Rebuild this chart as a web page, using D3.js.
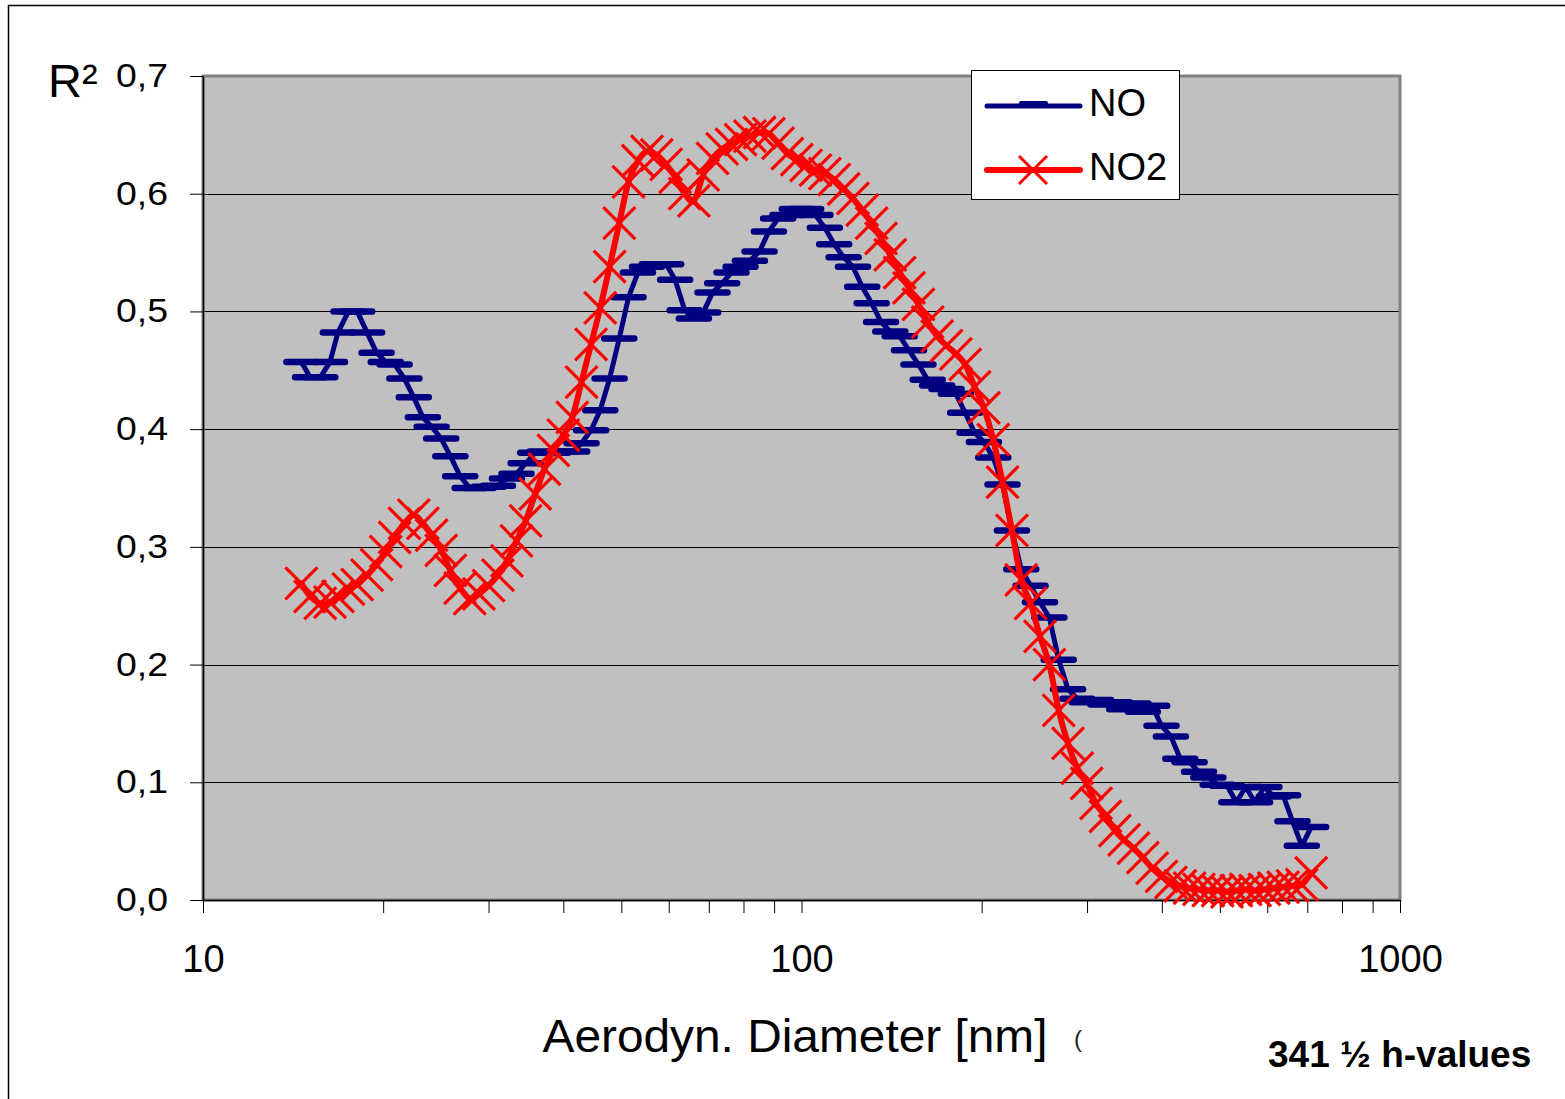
<!DOCTYPE html>
<html>
<head>
<meta charset="utf-8">
<script src="https://cdn.jsdelivr.net/npm/d3@7"></script>
<style>
  html, body { margin: 0; padding: 0; background: #fff; }
  svg { display: block; }
  text { font-family: "Liberation Sans", Arial, sans-serif; }
</style>
</head>
<body>
<svg id="chart" width="1565" height="1099"></svg>
<script>
// ---------------- DATA ----------------
const seriesNames = ["NO", "NO2"];

const diameters = [
  14.6, 15.1, 15.7, 16.3, 16.8, 17.5, 18.1, 18.8, 19.5, 20.2,
  20.9, 21.7, 22.5, 23.3, 24.1, 25.0, 25.9, 26.9, 27.9, 28.9,
  30.0, 31.1, 32.2, 33.4, 34.6, 35.9, 37.2, 38.5, 40.0, 41.4,
  42.9, 44.5, 46.1, 47.8, 49.6, 51.4, 53.3, 55.2, 57.3, 59.4,
  61.5, 63.8, 66.1, 68.5, 71.0, 73.7, 76.4, 79.1, 82.0, 85.1,
  88.2, 91.4, 94.7, 98.2, 101.8, 105.5, 109.4, 113.4, 117.6, 121.9,
  126.3, 131.0, 135.8, 140.7, 145.9, 151.2, 156.8, 162.5, 168.5, 174.7,
  181.1, 187.7, 194.6, 201.7, 209.1, 216.7, 224.7, 232.9, 241.4, 250.3,
  259.5, 269.0, 278.8, 289.0, 299.6, 310.6, 322.0, 333.8, 346.0, 358.7,
  371.8, 385.4, 399.5, 414.2, 429.4, 445.1, 461.4, 478.3, 495.8, 514.0,
  532.8, 552.3, 572.5, 593.5, 615.3, 637.8, 661.2, 685.4, 710.5
];

const valuesNO = [
  0.457, 0.444, 0.444, 0.457, 0.482, 0.500, 0.500, 0.482, 0.465, 0.457,
  0.455, 0.443, 0.427, 0.410, 0.402, 0.392, 0.377, 0.360, 0.350, 0.350,
  0.351, 0.352, 0.358, 0.362, 0.371, 0.380, 0.381, 0.380, 0.381, 0.381,
  0.388, 0.399, 0.416, 0.443, 0.477, 0.512, 0.533, 0.538, 0.540, 0.540,
  0.527, 0.501, 0.494, 0.499, 0.516, 0.524, 0.533, 0.538, 0.543, 0.551,
  0.568, 0.579, 0.582, 0.587, 0.587, 0.582, 0.571, 0.557, 0.546, 0.538,
  0.521, 0.507, 0.491, 0.483, 0.479, 0.467, 0.455, 0.442, 0.437, 0.434,
  0.430, 0.414, 0.397, 0.389, 0.376, 0.353, 0.314, 0.281, 0.267, 0.253,
  0.240, 0.204, 0.179, 0.171, 0.168, 0.170, 0.166, 0.168, 0.162, 0.167,
  0.160, 0.165, 0.148, 0.139, 0.120, 0.117, 0.109, 0.104, 0.098, 0.097,
  0.083, 0.096, 0.083, 0.096, 0.088, 0.089, 0.067, 0.046, 0.062
];

const valuesNO2 = [
  0.269, 0.258, 0.252, 0.253, 0.258, 0.264, 0.268, 0.276, 0.285, 0.296,
  0.308, 0.320, 0.327, 0.320, 0.310, 0.297, 0.280, 0.265, 0.256, 0.260,
  0.267, 0.276, 0.288, 0.305, 0.322, 0.345, 0.366, 0.382, 0.395, 0.410,
  0.440, 0.472, 0.503, 0.538, 0.575, 0.610, 0.628, 0.636, 0.633, 0.625,
  0.614, 0.600, 0.594, 0.616, 0.630, 0.638, 0.642, 0.646, 0.649, 0.652,
  0.651, 0.643, 0.634, 0.629, 0.624, 0.620, 0.617, 0.612, 0.604, 0.596,
  0.586, 0.575, 0.562, 0.548, 0.533, 0.520, 0.506, 0.491, 0.479, 0.471,
  0.464, 0.455, 0.436, 0.418, 0.391, 0.355, 0.314, 0.272, 0.252, 0.224,
  0.200, 0.161, 0.133, 0.112, 0.099, 0.082, 0.071, 0.059, 0.051, 0.044,
  0.036, 0.027, 0.020, 0.015, 0.012, 0.010, 0.009, 0.008, 0.008, 0.007,
  0.008, 0.009, 0.008, 0.009, 0.010, 0.011, 0.012, 0.013, 0.023
];

const yTickValues = [0, 0.1, 0.2, 0.3, 0.4, 0.5, 0.6, 0.7];
const xTickValues = [10, 20, 30, 40, 50, 60, 70, 80, 90, 100, 200, 300, 400, 500, 600, 700, 800, 900, 1000];
const xLabelValues = [10, 100, 1000];

const yAxisLabel = "R²";
const xAxisTitle = "Aerodyn. Diameter [nm]";
const noteText = "341 ½ h-values";

// ---------------- CHART ----------------
const svg = d3.select("#chart");
const plot = { left: 203, right: 1400, top: 76, bottom: 900 };

const x = d3.scaleLog().domain([10, 1000]).range([plot.left, plot.right]);
const y = d3.scaleLinear().domain([0, 0.7]).range([plot.bottom, plot.top]);

svg.append("rect").attr("x", 0).attr("y", 0).attr("width", 1565).attr("height", 1099).attr("fill", "#fff");
// outer chart border
svg.append("rect").attr("x", 8.5).attr("y", 5.5).attr("width", 1620).attr("height", 1200)
  .attr("fill", "none").attr("stroke", "#000").attr("stroke-width", 1.5);

// plot background
svg.append("rect")
  .attr("x", plot.left).attr("y", plot.top)
  .attr("width", plot.right - plot.left).attr("height", plot.bottom - plot.top)
  .attr("fill", "#c0c0c0");

// gridlines
svg.append("g").selectAll("line")
  .data(yTickValues.filter(v => v > 0 && v < 0.7))
  .join("line")
  .attr("x1", plot.left).attr("x2", plot.right)
  .attr("y1", d => Math.round(y(d)) + 0.5).attr("y2", d => Math.round(y(d)) + 0.5)
  .attr("stroke", "#000").attr("stroke-width", 1);

// plot area border (grey)
svg.append("rect")
  .attr("x", plot.left).attr("y", plot.top)
  .attr("width", plot.right - plot.left).attr("height", plot.bottom - plot.top)
  .attr("fill", "none").attr("stroke", "#808080").attr("stroke-width", 3);

// Y axis
const yAxis = svg.append("g")
  .attr("transform", `translate(${plot.left},0)`)
  .call(d3.axisLeft(y).tickValues(yTickValues).tickSize(13).tickSizeOuter(0)
    .tickFormat(d => d.toFixed(1).replace(".", ",")));
yAxis.select(".domain").attr("stroke", "#000").attr("stroke-width", 1.5);
yAxis.selectAll(".tick line").attr("stroke", "#000").attr("stroke-width", 1);
yAxis.selectAll(".tick text")
  .attr("x", -35)
  .attr("fill", "#000")
  .style("font-size", "33px")
  .style("font-family", "'Liberation Sans', Arial, sans-serif")
  .attr("textLength", 52)
  .attr("lengthAdjust", "spacingAndGlyphs");

// X axis
const xAxis = svg.append("g")
  .attr("transform", `translate(0,${plot.bottom})`)
  .call(d3.axisBottom(x).tickValues(xTickValues).tickSize(13).tickSizeOuter(0).tickPadding(32)
    .tickFormat(d => xLabelValues.includes(d) ? String(d) : ""));
xAxis.select(".domain").attr("stroke", "#000").attr("stroke-width", 1.5);
xAxis.selectAll(".tick line").attr("stroke", "#000").attr("stroke-width", 1);
xAxis.selectAll(".tick text")
  .attr("fill", "#000")
  .style("font-size", "38px")
  .style("font-family", "'Liberation Sans', Arial, sans-serif");
svg.append("line").attr("x1", 190).attr("x2", plot.left).attr("y1", plot.bottom + 0.5).attr("y2", plot.bottom + 0.5)
  .attr("stroke", "#000").attr("stroke-width", 1);

// ---------------- SERIES ----------------
const n = Math.min(diameters.length, valuesNO.length, valuesNO2.length);
const dataNO = d3.range(n).map(i => ({ d: diameters[i], v: valuesNO[i] }));
const dataNO2 = d3.range(n).map(i => ({ d: diameters[i], v: valuesNO2[i] }));

const colNO = "#000080";
const colNO2 = "#ff0000";

// NO: straight line + horizontal dash markers
const lineStraight = d3.line().x(p => x(p.d)).y(p => y(p.v));
svg.append("path").datum(dataNO)
  .attr("d", lineStraight)
  .attr("fill", "none").attr("stroke", colNO).attr("stroke-width", 5)
  .attr("stroke-linejoin", "round").attr("stroke-linecap", "round");
svg.append("g").selectAll("line")
  .data(dataNO).join("line")
  .attr("x1", p => x(p.d) - 15).attr("x2", p => x(p.d) + 15)
  .attr("y1", p => y(p.v)).attr("y2", p => y(p.v))
  .attr("stroke", colNO).attr("stroke-width", 6.5).attr("stroke-linecap", "round");

// NO2: smoothed line + X markers
const lineSmooth = d3.line().x(p => x(p.d)).y(p => y(p.v)).curve(d3.curveCatmullRom.alpha(0));
svg.append("path").datum(dataNO2)
  .attr("d", lineSmooth)
  .attr("fill", "none").attr("stroke", colNO2).attr("stroke-width", 6)
  .attr("stroke-linejoin", "round").attr("stroke-linecap", "round");
const xm = svg.append("g").selectAll("g").data(dataNO2).join("g")
  .attr("transform", p => `translate(${x(p.d)},${y(p.v)})`);
const s = 16;
xm.append("line").attr("x1", -s).attr("y1", -s).attr("x2", s).attr("y2", s)
  .attr("stroke", colNO2).attr("stroke-width", 3.2);
xm.append("line").attr("x1", -s).attr("y1", s).attr("x2", s).attr("y2", -s)
  .attr("stroke", colNO2).attr("stroke-width", 3.2);

// ---------------- LEGEND ----------------
const lg = svg.append("g");
lg.append("rect").attr("x", 971.5).attr("y", 70.5).attr("width", 208).attr("height", 129)
  .attr("fill", "#fff").attr("stroke", "#000").attr("stroke-width", 1);
lg.append("line").attr("x1", 987).attr("x2", 1080).attr("y1", 106).attr("y2", 106)
  .attr("stroke", colNO).attr("stroke-width", 5).attr("stroke-linecap", "round");
lg.append("line").attr("x1", 1021).attr("x2", 1046).attr("y1", 103).attr("y2", 103)
  .attr("stroke", colNO).attr("stroke-width", 4).attr("stroke-linecap", "round");
lg.append("text").attr("x", 1089).attr("y", 116).text(seriesNames[0])
  .style("font-size", "38px").attr("fill", "#000");
lg.append("line").attr("x1", 987).attr("x2", 1080).attr("y1", 170).attr("y2", 170)
  .attr("stroke", colNO2).attr("stroke-width", 6).attr("stroke-linecap", "round");
lg.append("line").attr("x1", 1019).attr("y1", 156).attr("x2", 1047).attr("y2", 184)
  .attr("stroke", colNO2).attr("stroke-width", 3);
lg.append("line").attr("x1", 1019).attr("y1", 184).attr("x2", 1047).attr("y2", 156)
  .attr("stroke", colNO2).attr("stroke-width", 3);
lg.append("text").attr("x", 1089).attr("y", 180).text(seriesNames[1])
  .style("font-size", "38px").attr("fill", "#000");

// ---------------- TEXTS ----------------
svg.append("text").attr("x", 48).attr("y", 97).text(yAxisLabel)
  .style("font-size", "47px").attr("fill", "#000");
svg.append("text").attr("x", 795).attr("y", 1052).attr("text-anchor", "middle").text(xAxisTitle)
  .attr("textLength", 505).attr("lengthAdjust", "spacingAndGlyphs")
  .style("font-size", "47px").attr("fill", "#000");
svg.append("text").attr("x", 1074).attr("y", 1047).text("(")
  .style("font-size", "24px").attr("fill", "#222");
svg.append("text").attr("x", 1268).attr("y", 1067).text(noteText)
  .style("font-size", "37px").style("font-weight", "bold").attr("fill", "#000");
</script>
</body>
</html>
